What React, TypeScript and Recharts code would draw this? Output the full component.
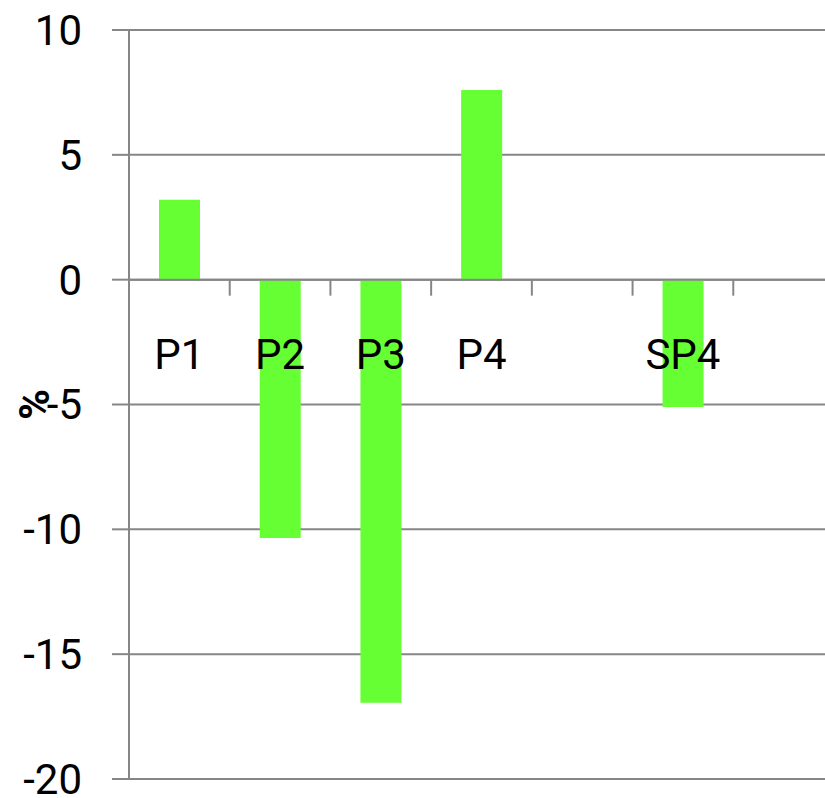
import React from "react";
import { BarChart, Bar, XAxis, YAxis, CartesianGrid, ReferenceLine, Label } from "recharts";

const categories = ["P1", "P2", "P3", "P4", "", "SP4", ""];
const values: (number | null)[] = [3.2, -10.35, -16.95, 7.6, null, -5.1, null];
const yTicks = [-20, -15, -10, -5, 0, 5, 10];
const yDomain: [number, number] = [-20, 10];

const data = categories.map((name, i) => ({ name, value: values[i] }));

const CHART_W = 834;
const CHART_H = 798;
const MARGIN_TOP = 30;
const X_AXIS_H = 19;
const PLOT_H = CHART_H - MARGIN_TOP - X_AXIS_H;
const GRID = "#868686";
const FONT = "Roboto, 'Liberation Sans', sans-serif";
const zeroY = MARGIN_TOP + (PLOT_H * yDomain[1]) / (yDomain[1] - yDomain[0]);

const XTick = (props: any) => {
  const { x, payload } = props;
  const off = payload.offset || 0;
  return (
    <g>
      <line x1={x - off} x2={x - off} y1={zeroY} y2={zeroY + 16} stroke={GRID} strokeWidth={2} />
      <text x={x} y={zeroY + 89} textAnchor="middle" fontFamily={FONT} fontSize={42} fill="#000">
        {payload.value}
      </text>
    </g>
  );
};

const PercentLabel = (props: any) => {
  const { viewBox } = props;
  const cx = viewBox.x + 34;
  const cy = viewBox.y + viewBox.height / 2;
  return (
    <text
      x={cx}
      y={cy}
      transform={`rotate(-90, ${cx}, ${cy})`}
      textAnchor="middle"
      dominantBaseline="central"
      fontFamily={FONT}
      fontWeight="bold"
      fontSize={42}
      fill="#000"
    >
      %
    </text>
  );
};

export default function App() {
  return (
    <div style={{ position: "absolute", left: 0, top: 0, width: 825, height: 798, overflow: "hidden", background: "#fff" }}>
      <BarChart
        width={CHART_W}
        height={CHART_H}
        data={data}
        margin={{ top: MARGIN_TOP, right: 0, bottom: 0, left: 0 }}
        barSize={41}
      >
        <CartesianGrid vertical={false} stroke={GRID} strokeWidth={2} />
        <YAxis
          type="number"
          domain={yDomain}
          ticks={yTicks}
          interval={0}
          width={129}
          axisLine={{ stroke: GRID, strokeWidth: 2 }}
          tickLine={{ stroke: GRID, strokeWidth: 2 }}
          tickSize={17}
          tickMargin={30}
          tick={{ fontFamily: FONT, fontSize: 42, fill: "#000" }}
        >
          <Label content={<PercentLabel />} />
        </YAxis>
        <Bar dataKey="value" fill="#66FF33" isAnimationActive={false} />
        <ReferenceLine y={0} stroke={GRID} strokeWidth={2} />
        <XAxis
          dataKey="name"
          height={X_AXIS_H}
          axisLine={false}
          tickLine={false}
          interval={0}
          tick={<XTick />}
        />
      </BarChart>
    </div>
  );
}
